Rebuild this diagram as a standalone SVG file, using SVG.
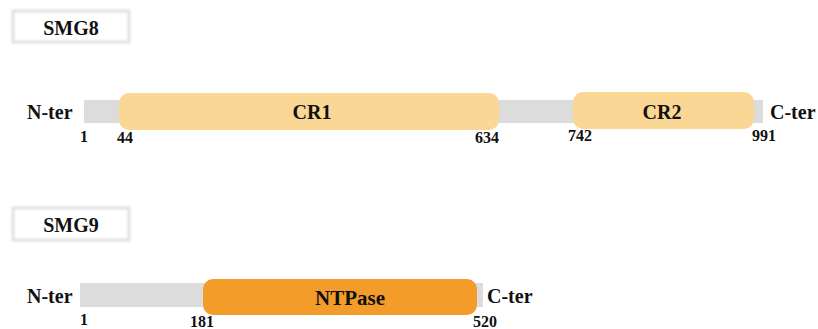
<svg xmlns="http://www.w3.org/2000/svg" width="818" height="329" viewBox="0 0 818 329">
<defs>
<filter id="blur" x="-10%" y="-20%" width="120%" height="140%"><feGaussianBlur stdDeviation="1"/></filter>
</defs>
<style>
.t{font-family:'Liberation Serif','Times New Roman','DejaVu Serif',serif;font-weight:bold;fill:#111}
.lbl{font-size:20px}
.num{font-size:16px}
.dom{font-size:20px;text-anchor:middle}
.bar{fill:#dcdcdc}
.cr{fill:#fad794}
.nt{fill:#f49c2a}
.tag{fill:#fff;stroke:#e0e0e0;stroke-width:3}
</style>
<rect width="818" height="329" fill="#fff"/>
<g id="smg8-title">
<rect class="tag" x="13" y="11" width="116" height="31" filter="url(#blur)"/>
<text class="t lbl" x="71" y="35" text-anchor="middle" font-family="Liberation Serif, serif">SMG8</text>
</g>
<g id="smg8" font-family="Liberation Serif, serif">
<rect class="bar" x="84" y="100" width="679" height="23"/>
<rect id="cr1" class="cr" x="119" y="93" width="380" height="37" rx="10"/>
<text class="t dom" x="312" y="119">CR1</text>
<rect id="cr2" class="cr" x="573" y="92" width="181" height="37" rx="10"/>
<text class="t dom" x="662" y="119">CR2</text>
<text class="t lbl" x="27" y="119">N-ter</text>
<text class="t lbl" x="770" y="119">C-ter</text>
<text class="t num" x="80" y="142">1</text>
<text class="t num" x="117" y="143">44</text>
<text class="t num" x="475" y="143">634</text>
<text class="t num" x="568" y="141">742</text>
<text class="t num" x="752" y="141">991</text>
</g>
<g id="smg9-title">
<rect class="tag" x="13" y="208" width="116" height="32" filter="url(#blur)"/>
<text class="t lbl" x="71" y="232" text-anchor="middle" font-family="Liberation Serif, serif">SMG9</text>
</g>
<g id="smg9" font-family="Liberation Serif, serif">
<rect class="bar" x="80" y="283" width="403" height="24"/>
<rect id="ntpase" class="nt" x="203" y="279" width="274" height="36" rx="10"/>
<text class="t dom" x="350" y="305" style="font-size:21px">NTPase</text>
<text class="t lbl" x="27" y="303">N-ter</text>
<text class="t lbl" x="487" y="303">C-ter</text>
<text class="t num" x="80" y="325">1</text>
<text class="t num" x="190" y="327">181</text>
<text class="t num" x="473" y="327">520</text>
</g>
<g id="connectors"></g>
</svg>
